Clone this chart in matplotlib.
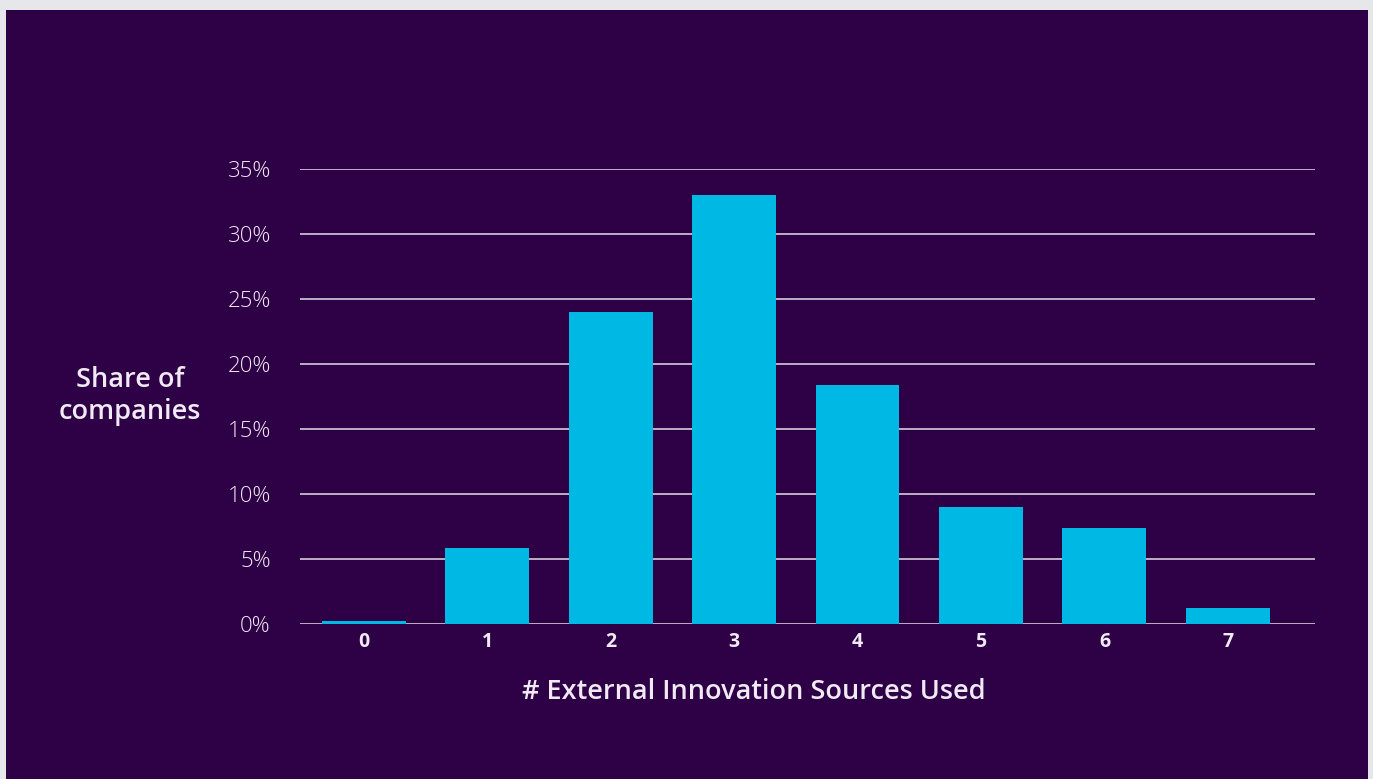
import matplotlib.pyplot as plt
from matplotlib.patches import Rectangle

sources = [0, 1, 2, 3, 4, 5, 6, 7]
share = [0.25, 5.85, 24.0, 33.0, 18.4, 9.0, 7.4, 1.25]
yticks = [0, 5, 10, 15, 20, 25, 30, 35]

bg = '#2E0046'
bar_color = '#00B8E4'
text_color = '#F0EAF4'
plt.rcParams['font.family'] = ['Open Sans', 'DejaVu Sans']

W, H = 1373, 779
fig = plt.figure(figsize=(W / 100, H / 100), dpi=100)
fig.patch.set_facecolor('#E6E7EA')
fig.patches.append(Rectangle((6 / W, 0), (1368 - 6) / W, (H - 10) / H,
                             transform=fig.transFigure, facecolor=bg,
                             edgecolor='none', zorder=0))

ax = fig.add_axes([300 / W, (H - 624) / H, (1315 - 300) / W, (624 - 169) / H])
ax.set_zorder(2)
ax.patch.set_alpha(0)

ax.bar(sources, share, width=0.68, color=bar_color, zorder=3)
ax.set_xlim(-0.515, 7.705)
ax.set_ylim(0, 35)
ax.set_yticks(yticks)
ax.set_yticklabels([f'{v}%' for v in yticks])
ax.set_xticks(sources)
ax.set_xticklabels([str(s) for s in sources], fontweight='bold')

ax.grid(axis='y', color='#E4DEEA', linewidth=1.1, zorder=1)
ax.set_axisbelow(True)
for s in ax.spines.values():
    s.set_visible(False)
ax.tick_params(axis='y', length=0, pad=21, labelsize=16, labelcolor=text_color)
ax.tick_params(axis='x', length=0, pad=6, labelsize=14, labelcolor=text_color)
for t in ax.get_yticklabels():
    t.set_fontweight('light')

fig.text(130 / W, (H - 396) / H, 'Share of\ncompanies', ha='center', va='center',
         fontsize=19.5, fontweight='semibold', color=text_color, linespacing=1.15,
         zorder=3)
fig.text(754 / W, (H - 692) / H, '# External Innovation Sources Used', ha='center',
         va='center', fontsize=19.5, fontweight='semibold', color=text_color, zorder=3)

fig.savefig('out.png', dpi=100, facecolor=fig.get_facecolor())
